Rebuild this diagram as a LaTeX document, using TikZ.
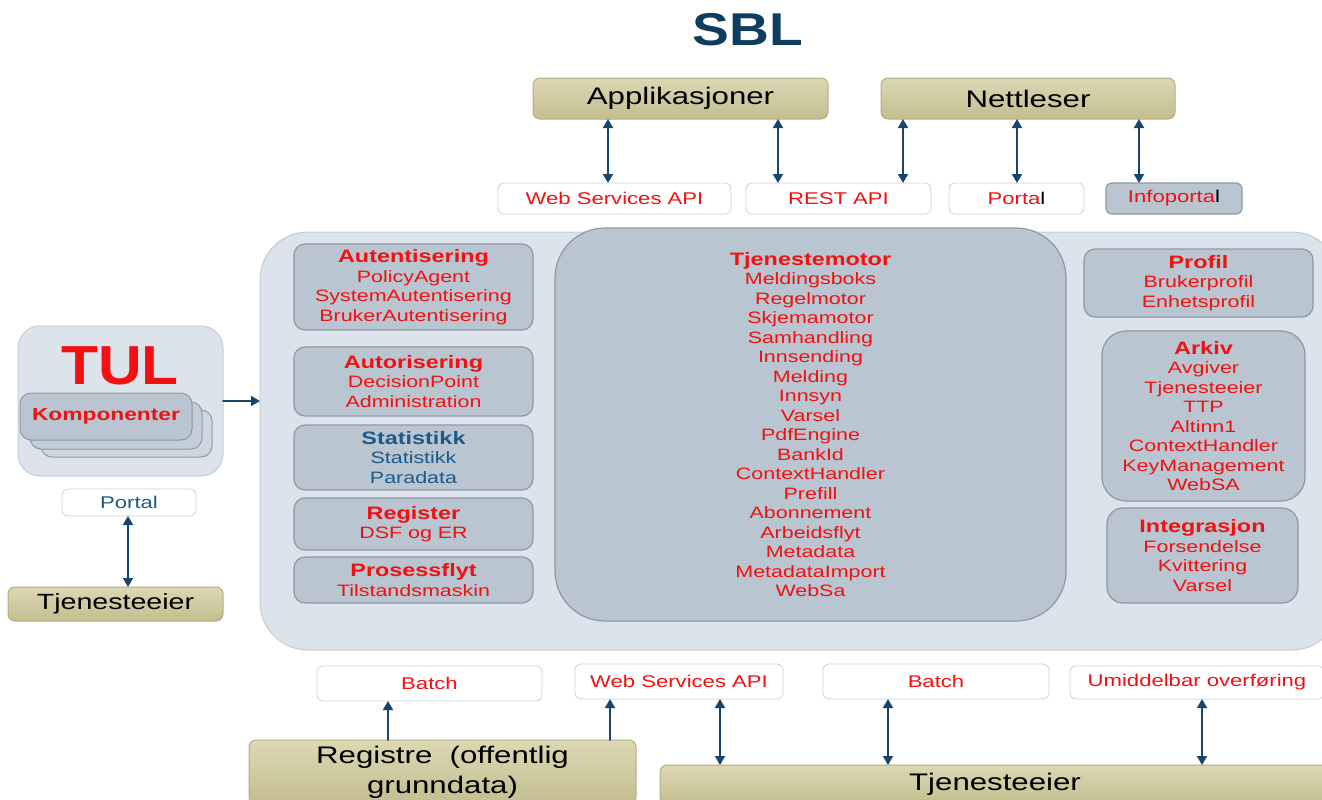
\documentclass[tikz,border=0pt]{standalone}
\usepackage{fontspec}
\setmainfont{Liberation Sans}[FakeStretch=1.3]
\newfontfamily\headfont{Liberation Sans}[FakeStretch=1.2]
\newfontfamily\tulfont{Liberation Sans}[FakeStretch=1.1]
\usetikzlibrary{arrows.meta}
\definecolor{sblblue}{HTML}{0E3D5E}
\definecolor{arrowblue}{HTML}{17456B}
\definecolor{txtred}{HTML}{F21010}
\definecolor{statblue}{HTML}{1D5A88}
\definecolor{panelfill}{HTML}{DCE3EA}
\definecolor{panelline}{HTML}{C4CDD6}
\definecolor{boxfill}{HTML}{B9C5D0}
\definecolor{boxline}{HTML}{8E99A3}
\definecolor{olivetop}{HTML}{DCD8B4}
\definecolor{olivebot}{HTML}{C3BD8F}
\definecolor{oliveline}{HTML}{B4AD80}
\definecolor{apiline}{HTML}{C8D2DC}
\tikzset{
  box/.style={rectangle,inner sep=0pt,outer sep=0pt,align=center},
  actor/.style={box,rounded corners=7pt,draw=oliveline,line width=1pt,top color=olivetop,bottom color=olivebot,font=\fontsize{24}{30}\selectfont},
  api/.style={box,rounded corners=6pt,draw=apiline,line width=0.8pt,fill=white,text=txtred,font=\fontsize{17}{20}\selectfont},
  modul/.style={box,rounded corners=11pt,draw=boxline,line width=1.2pt,fill=boxfill,text=txtred,font=\fontsize{16.5}{19.5}\selectfont},
  panel/.style={box,draw=panelline,line width=1pt,fill=panelfill},
  link/.style={draw=arrowblue,line width=1.8pt,{Triangle[length=9pt,width=10pt]}-{Triangle[length=9pt,width=10pt]}},
  oneway/.style={draw=arrowblue,line width=1.8pt,-{Triangle[length=9pt,width=10pt]}}
}
\newcommand{\modtitle}[1]{{\fontsize{18}{19.5}\selectfont\bfseries #1}}
\begin{document}
\begin{tikzpicture}[line cap=round,line join=round,x=1pt,y=-1pt]
\clip (0,0) rectangle (1322,800);
\node [font=\headfont\fontsize{46}{50}\selectfont\bfseries,text=sblblue] (title) at (748,30) {SBL};
% clients on top
\node [actor,minimum width=295pt,minimum height=41pt] (app) at (680.5,98.5) {Applikasjoner};
\node [actor,minimum width=294pt,minimum height=41pt] (nett) at (1028,98.5) {Nettleser};
\node [api,minimum width=233pt,minimum height=31pt] (wsapi) at (614.5,198.5) {Web Services API};
\node [api,minimum width=185pt,minimum height=31pt] (rest) at (838.5,198.5) {REST API};
\node [api,minimum width=135pt,minimum height=31pt] (portal) at (1016.5,198.5) {Porta\textcolor{black}{l}};
\node [api,fill=boxfill,draw=boxline,line width=1.2pt,minimum width=136pt,minimum height=31pt] (infoportal) at (1174,198.5) {Infoporta\textcolor{black}{l}};
\foreach \x/\from/\to in {608/app/wsapi,778/app/rest,903/nett/rest,1017/nett/portal,1139/nett/infoportal}{
  \coordinate (x) at (\x,0);
  \draw [link] (\from.south -| x) -- (\to.north -| x);
}
% SBL core
\node [panel,rounded corners=48pt,minimum width=1080pt,minimum height=418pt] (sbl) at (800,441) {};
\node [modul,minimum width=239pt,minimum height=86pt] (autent) at (413.5,287) {\modtitle{Autentisering}\\PolicyAgent\\SystemAutentisering\\BrukerAutentisering};
\node [modul,minimum width=239pt,minimum height=69pt] (autor) at (413.5,381.5) {\modtitle{Autorisering}\\DecisionPoint\\Administration};
\node [modul,text=statblue,minimum width=239pt,minimum height=65pt] (stat) at (413.5,457.5) {\modtitle{Statistikk}\\Statistikk\\Paradata};
\node [modul,minimum width=239pt,minimum height=52pt] (reg) at (413.5,524) {\modtitle{Register}\\DSF og ER};
\node [modul,minimum width=239pt,minimum height=46pt] (pros) at (413.5,580) {\modtitle{Prosessflyt}\\Tilstandsmaskin};
\node [modul,rounded corners=50pt,minimum width=511pt,minimum height=393pt] (motor) at (810.5,424.5) {\modtitle{Tjenestemotor}\\Meldingsboks\\Regelmotor\\Skjemamotor\\Samhandling\\Innsending\\Melding\\Innsyn\\Varsel\\PdfEngine\\BankId\\ContextHandler\\Prefill\\Abonnement\\Arbeidsflyt\\Metadata\\MetadataImport\\WebSa};
\node [modul,minimum width=229pt,minimum height=68pt] (profil) at (1198.5,283) {\modtitle{Profil}\\Brukerprofil\\Enhetsprofil};
\node [modul,rounded corners=24pt,minimum width=203pt,minimum height=170pt] (arkiv) at (1203.5,416) {\modtitle{Arkiv}\\Avgiver\\Tjenesteeier\\TTP\\Altinn1\\ContextHandler\\KeyManagement\\WebSA};
\node [modul,rounded corners=16pt,minimum width=191pt,minimum height=95pt] (integ) at (1202.5,555.5) {\modtitle{Integrasjon}\\Forsendelse\\Kvittering\\Varsel};
% TUL
\node [panel,rounded corners=22pt,minimum width=205pt,minimum height=150pt] (tul) at (120.5,401) {};
\node [font=\tulfont\fontsize{55}{60}\selectfont\bfseries,text=txtred] (tultitle) at (120,366) {TUL};
\node [modul,fill=panelfill!60!boxfill,line width=1pt,minimum width=171pt,minimum height=47pt] (komp3) at (126.5,433.5) {};
\node [modul,fill=panelfill!30!boxfill,line width=1pt,minimum width=172pt,minimum height=47pt] (komp2) at (116,425.5) {};
\node [modul,line width=1pt,minimum width=172pt,minimum height=47pt,font=\fontsize{17.5}{20}\selectfont\bfseries] (komp1) at (106,416.5) {Komponenter};
\draw [oneway] (tul.east) -- (tul.east -| sbl.west);
\node [api,text=statblue,minimum width=134pt,minimum height=27pt] (tulportal) at (129,502.5) {Portal};
\node [actor,font=\fontsize{22}{26}\selectfont,minimum width=215pt,minimum height=34pt] (tuleier) at (115.5,604) {Tjenesteeier};
\coordinate (x) at (128,0);
\draw [link] (tulportal.south -| x) -- (tuleier.north -| x);
% bottom
\node [api,minimum width=225pt,minimum height=35pt] (batch1) at (429.5,683.5) {Batch};
\node [api,minimum width=208pt,minimum height=35pt] (wsapi2) at (679,681.5) {Web Services API};
\node [api,minimum width=226pt,minimum height=35pt] (batch2) at (936,681.5) {Batch};
\node [api,minimum width=254pt,minimum height=33pt] (umid) at (1197,682.5) {Umiddelbar overføring};
\node [actor,minimum width=387pt,minimum height=64pt] (registre) at (442.5,772) {Registre\ \ (offentlig\\grunndata)};
\node [actor,minimum width=670pt,minimum height=39pt] (eier) at (995,784.5) {Tjenesteeier};
\coordinate (x) at (388,0);
\draw [oneway] (registre.north -| x) -- (batch1.south -| x);
\coordinate (x) at (610,0);
\draw [oneway] (registre.north -| x) -- (wsapi2.south -| x);
\foreach \x/\from in {720/wsapi2,888/batch2,1202/umid}{
  \coordinate (x) at (\x,0);
  \draw [link] (\from.south -| x) -- (eier.north -| x);
}
\end{tikzpicture}
\end{document}
